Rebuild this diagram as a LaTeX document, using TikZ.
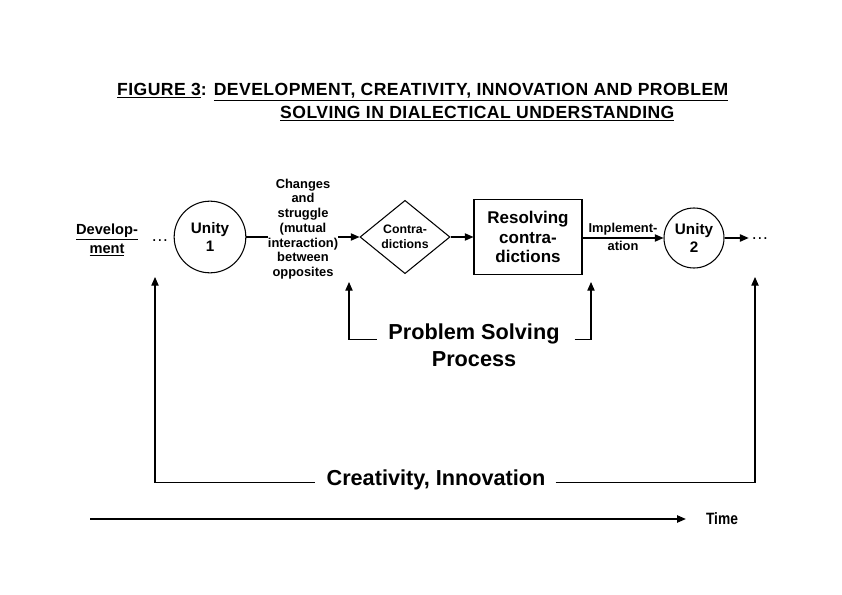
\documentclass[tikz,border=0pt]{standalone}
\usepackage{fontspec}
\setmainfont{Liberation Sans}
\newfontfamily\narrowfont[FakeStretch=0.84]{Liberation Sans}
\newfontfamily\titlefont[LetterSpace=2.5]{Liberation Sans}
\usetikzlibrary{shapes.geometric, arrows.meta, positioning, calc}
\tikzset{
  unity/.style={
    circle, draw=black, line width=0.9pt,
    inner sep=0pt, align=center,
    font=\bfseries\fontsize{13}{16}\selectfont},
  ttl/.style={
    anchor=west, inner sep=0pt,
    font=\titlefont\bfseries\fontsize{15}{18}\selectfont},
  small/.style={
    align=center, inner sep=0pt,
    font=\bfseries\fontsize{11}{12.6}\selectfont},
  big/.style={
    align=center, inner sep=0pt,
    font=\bfseries\fontsize{18.5}{21}\selectfont},
  dotsbox/.style={inner sep=0pt, font=\fontsize{15}{18}\selectfont},
  ln/.style={line width=0.9pt},
  arr/.style={-{Triangle[length=2.6mm,width=2.2mm]}, line width=0.9pt},
}
\begin{document}
\begin{tikzpicture}[x=0.03cm, y=-0.03cm]
  \useasboundingbox (0,0) rectangle (842,595);

  % title
  \node[ttl] (title1) at (117,92)
    {\underline{FIGURE 3}: \underline{DEVELOPMENT, CREATIVITY, INNOVATION AND PROBLEM}};
  \node[ttl] (title2) at (280,114)
    {\underline{SOLVING IN DIALECTICAL UNDERSTANDING}};

  % main row
  \node[align=center, inner sep=0pt, font=\bfseries\fontsize{12.5}{16}\selectfont] (dev) at (107,240)
    {\underline{Develop-}\\\underline{ment}};
  \node[dotsbox] (dots1) at (160,241) {\dots};
  \node[unity, minimum size=2.15cm] (u1) at (210,237) {Unity\\1};
  \node[small] (chg) at (303,229)
    {Changes\\and\\struggle\\(mutual\\interaction)\\between\\opposites};
  \node[diamond, draw=black, line width=0.9pt, inner sep=0pt,
        minimum width=2.7cm, minimum height=2.2cm, align=center,
        font=\bfseries\fontsize{10.5}{12.8}\selectfont] (dia) at (405,237)
    {Contra-\\dictions};
  \node[rectangle, draw=black, line width=0.9pt, align=center,
        minimum width=3.24cm, minimum height=2.25cm,
        font=\bfseries\fontsize{14.5}{17}\selectfont] (res) at (528,237)
    {Resolving\\contra-\\dictions};
  \node[unity, minimum size=1.8cm] (u2) at (694,238) {Unity\\2};
  \node[dotsbox] (dots2) at (760,239) {\dots};

  \draw[ln] (u1.east) -- (chg.west |- u1.east);
  \draw[arr] (chg.east |- dia.west) -- (dia.west);
  \draw[arr] (dia.east) -- (res.west);
  \draw[arr] (res.east |- u2.west) -- node[small, above=2pt]{Implement-}
    node[small, below=2pt]{ation} (u2.west);
  \draw[arr, shorten >=2pt] (u2.east) -- (dots2.west |- u2.east);

  % problem solving loop
  \node[big] (ps1) at (474,334) {Problem Solving};
  \node[big, below=0.2cm of ps1] (ps2) {Process};
  \coordinate (psl) at (349,282);
  \coordinate (psr) at (591,282);
  \draw[arr] ([xshift=-0.35cm]ps1.base west) -| (psl);
  \draw[arr] ([xshift=0.45cm]ps1.base east) -| (psr);

  % creativity loop
  \node[big] (crea) at (436,480) {Creativity, Innovation};
  \coordinate (cl) at (155,277);
  \coordinate (cr) at (755,277);
  \draw[arr] ([xshift=-0.35cm, yshift=0.1cm]crea.base west) -| (cl);
  \draw[arr] ([xshift=0.3cm, yshift=0.1cm]crea.base east) -| (cr);

  % time axis
  \node[inner sep=0pt, font=\narrowfont\bfseries\fontsize{14}{16}\selectfont] (time) at (722,519) {Time};
  \coordinate (t0) at (90,519);
  \draw[arr] (t0) -- ([xshift=-0.6cm]time.west);

\end{tikzpicture}
\end{document}
